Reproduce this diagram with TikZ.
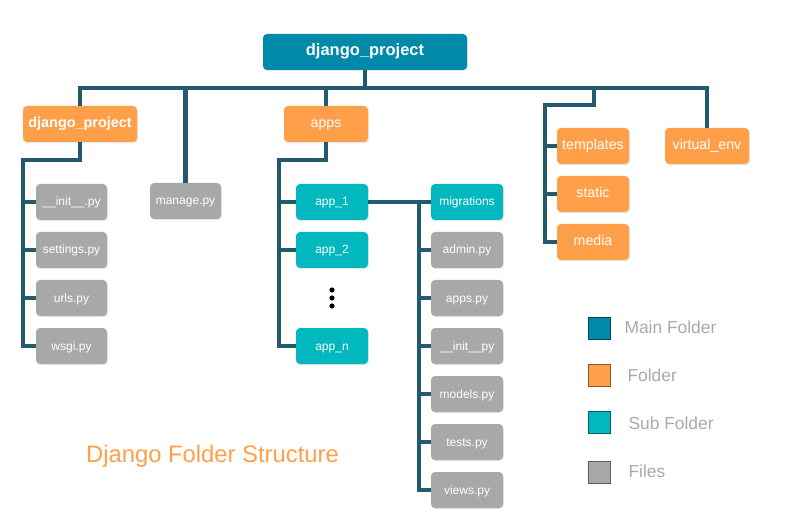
\documentclass[tikz,border=0pt]{standalone}
\usepackage{fontspec}
\setmainfont{Liberation Sans}
\usetikzlibrary{shadows}

\definecolor{mainblue}{HTML}{0089A8}
\definecolor{folderorange}{HTML}{FF9F4A}
\definecolor{subteal}{HTML}{00B8BE}
\definecolor{filegray}{HTML}{A8A8A8}
\definecolor{busline}{HTML}{245A70}
\definecolor{legendtext}{HTML}{AAAAAA}

\tikzset{
  box/.style={rounded corners=4pt, text=white, inner sep=0pt, minimum height=36pt,
    text height=0.8em, text depth=0pt,
    drop shadow={opacity=0.18, shadow xshift=1pt, shadow yshift=-1.2pt}},
  mainbox/.style={box, fill=mainblue, minimum width=204pt, font=\fontsize{16.5}{18}\selectfont\bfseries},
  folderbox/.style={box, fill=folderorange, font=\fontsize{14.2}{16}\selectfont},
  subbox/.style={box, fill=subteal, minimum width=72pt, font=\fontsize{12}{14}\selectfont},
  filebox/.style={box, fill=filegray, minimum width=71pt, font=\fontsize{12}{14}\selectfont},
  bus/.style={draw=busline, line width=4.5pt},
  swatch/.style={draw=#1!55!black, line width=0.8pt, minimum size=22pt, inner sep=0pt, fill=#1},
  legendlabel/.style={text=legendtext, anchor=west, font=\fontsize{17.4}{20}\selectfont}
}

\begin{document}
\begin{tikzpicture}[x=1pt, y=-1pt, line join=miter]
  \useasboundingbox (0,0) rectangle (786,518);

  % Main folder
  \node[mainbox] (main) at (365,52) {django\_project};

  % Folders below the main folder
  \node[folderbox, minimum width=114pt, font=\fontsize{14.4}{16}\selectfont\bfseries] (dp) at (80,124) {django\_project};
  \node[filebox] (manage) at (185.5,201) {manage.py};
  \node[folderbox, minimum width=84pt] (apps) at (326,124) {apps};
  \node[folderbox, minimum width=72pt] (templates) at (593,146) {templates};
  \node[folderbox, minimum width=72pt] (static) at (593,194) {static};
  \node[folderbox, minimum width=72pt] (media) at (593,242) {media};
  \node[folderbox, minimum width=84pt] (venv) at (707,146) {virtual\_env};

  % Files of django_project
  \node[filebox] (init1) at (71.5,202) {\_\_init\_\_.py};
  \node[filebox] (settings) at (71.5,250) {settings.py};
  \node[filebox] (urls) at (71.5,298) {urls.py};
  \node[filebox] (wsgi) at (71.5,346) {wsgi.py};

  % Apps
  \node[subbox] (app1) at (332,202) {app\_1};
  \node[subbox] (app2) at (332,250) {app\_2};
  \node[subbox] (appn) at (332,346) {app\_n};
  \foreach \y in {290,298,306}
    \fill (332,\y) circle (2.6pt);

  % Contents of app_1
  \node[subbox] (migr) at (467,202) {migrations};
  \node[filebox, minimum width=72pt] (admin) at (467,250) {admin.py};
  \node[filebox, minimum width=72pt] (appspy) at (467,298) {apps.py};
  \node[filebox, minimum width=72pt] (init2) at (467,346) {\_\_init\_\_py};
  \node[filebox, minimum width=72pt] (models) at (467,394) {models.py};
  \node[filebox, minimum width=72pt] (tests) at (467,442) {tests.py};
  \node[filebox, minimum width=72pt] (views) at (467,490) {views.py};

  % Main bus
  \coordinate (bus) at (0,88);
  \draw[bus] (dp.north) |- (bus -| venv.north) -- (venv.north);
  \draw[bus] (main.south) -- (main.south |- bus);
  \draw[bus] (manage.north) -- (manage.north |- bus);
  \draw[bus] (apps.north) -- (apps.north |- bus);

  % templates, static, media
  \coordinate (tsm) at (594,88);
  \coordinate (tsmT) at (545,105);
  \draw[bus] (tsm) |- (tsmT) |- (media.west);
  \draw[bus] (templates.west) -- (templates.west -| tsmT);
  \draw[bus] (static.west) -- (static.west -| tsmT);

  % django_project files
  \coordinate (dpT) at (23,160);
  \draw[bus] (dp.south) |- (dpT) |- (wsgi.west);
  \foreach \f in {init1,settings,urls}
    \draw[bus] (\f.west) -- (\f.west -| dpT);

  % apps
  \coordinate (appsT) at (279,160);
  \draw[bus] (apps.south) |- (appsT) |- (appn.west);
  \foreach \f in {app1,app2}
    \draw[bus] (\f.west) -- (\f.west -| appsT);

  % app_1 contents
  \coordinate (migT) at (419,202);
  \draw[bus] (app1.east) -- (migr.west);
  \draw[bus] (migT) |- (views.west);
  \foreach \f in {admin,appspy,init2,models,tests}
    \draw[bus] (\f.west) -- (\f.west -| migT);

  % Title
  \node[text=folderorange, font=\fontsize{23.8}{28}\selectfont] (title) at (212.5,456) {Django Folder Structure};

  % Legend
  \node[swatch=mainblue] (lmain) at (599,328) {};
  \node[swatch=folderorange] (lfolder) at (599,375.5) {};
  \node[swatch=subteal] (lsub) at (599,422.5) {};
  \node[swatch=filegray] (lfile) at (599,472) {};
  \node[legendlabel] (tmain) at (621,327) {Main Folder};
  \node[legendlabel] (tfolder) at (624,375) {Folder};
  \node[legendlabel] (tsub) at (625,423) {Sub Folder};
  \node[legendlabel] (tfile) at (625,471) {Files};
\end{tikzpicture}
\end{document}
